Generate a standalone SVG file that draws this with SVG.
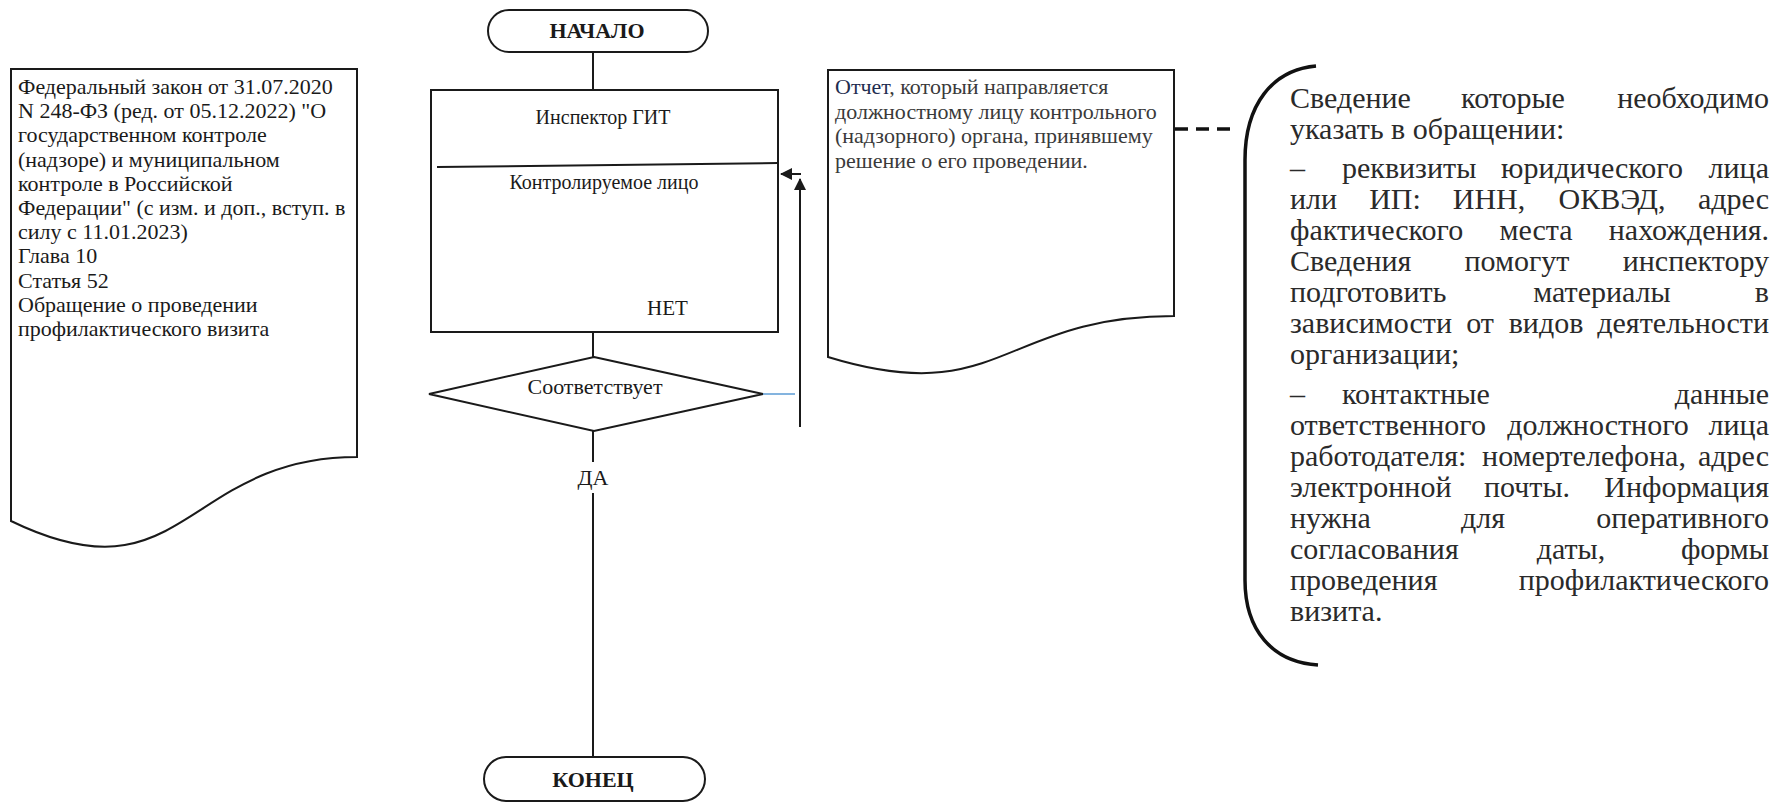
<svg xmlns="http://www.w3.org/2000/svg" width="1783" height="803" viewBox="0 0 1783 803">
<style>
.shape{fill:#fff;stroke:#1a1a1a;stroke-width:2}
.line{fill:none;stroke:#1a1a1a;stroke-width:2}
.serif{font-family:"Liberation Serif","Times New Roman",serif;fill:#1a1a1a}
.s20{font-size:20px}
.s22{font-size:22px}
.b{font-weight:bold}
.note{font-family:"Liberation Serif","Times New Roman",serif;font-size:30px;fill:#2a2a2a}
.m{text-anchor:middle}
.e{text-anchor:end}
</style>
<defs>
<marker id="arr" markerUnits="userSpaceOnUse" markerWidth="14" markerHeight="14" refX="11" refY="6" orient="auto">
<path d="M0,0 L12,6 L0,12 Z" fill="#1a1a1a"/>
</marker>
</defs>

<g id="law-doc">
<path class="shape" d="M11,69 H357 V457 C184,457 184,605 11,521 Z"/>
<text class="serif s22">
<tspan x="18" y="94">Федеральный закон от 31.07.2020</tspan>
<tspan x="18" y="118.2">N 248-ФЗ (ред. от 05.12.2022) "О</tspan>
<tspan x="18" y="142.4">государственном контроле</tspan>
<tspan x="18" y="166.6">(надзоре) и муниципальном</tspan>
<tspan x="18" y="190.8">контроле в Российской</tspan>
<tspan x="18" y="215">Федерации" (с изм. и доп., вступ. в</tspan>
<tspan x="18" y="239.2">силу с 11.01.2023)</tspan>
<tspan x="18" y="263.4">Глава 10</tspan>
<tspan x="18" y="287.6">Статья 52</tspan>
<tspan x="18" y="311.8">Обращение о проведении</tspan>
<tspan x="18" y="336">профилактического визита</tspan>
</text>
</g>

<g id="start">
<rect class="shape" x="488" y="10" width="220" height="42" rx="21" ry="21"/>
<text class="serif s22 b m" x="597" y="38">НАЧАЛО</text>
</g>

<g id="process">
<rect class="shape" x="431" y="90" width="347" height="242"/>
<line class="line" x1="437" y1="167" x2="778" y2="163"/>
<text class="serif s20 m" x="603" y="124">Инспектор ГИТ</text>
<text class="serif s20 m" x="604" y="189">Контролируемое лицо</text>
<text class="serif" x="647" y="315" style="font-size:21px">НЕТ</text>
</g>

<g id="decision">
<polygon class="shape" points="594,357 763,394 594,431 429,394"/>
<text class="serif s22 m" x="595" y="394">Соответствует</text>
</g>

<g id="end">
<rect class="shape" x="484" y="757" width="221" height="44" rx="22" ry="22"/>
<text class="serif s22 b m" x="593" y="787">КОНЕЦ</text>
</g>

<g id="report-doc">
<path class="shape" d="M828,70 H1174 V316 C1001,316 1001,410 828,357 Z"/>
<text class="serif s22" style="fill:#3a3a3a">
<tspan x="835" y="94"><tspan style="fill:#1f2d50">Отчет</tspan>, который направляется</tspan>
<tspan x="835" y="118.5">должностному лицу контрольного</tspan>
<tspan x="835" y="143">(надзорного) органа, принявшему</tspan>
<tspan x="835" y="167.5">решение о его проведении.</tspan>
</text>
</g>

<g id="info-note">
<path d="M1316,66 C1272,70 1245,105 1245,160 L1245,580 C1245,630 1272,662 1318,665" fill="none" stroke="#111" stroke-width="3.5"/>
<text class="note" y="108"><tspan x="1290">Сведение</tspan><tspan class="m" x="1513">которые</tspan><tspan class="e" x="1769">необходимо</tspan></text>
<text class="note" y="139"><tspan x="1290">указать в обращении:</tspan></text>
<text class="note" y="178"><tspan x="1290">–</tspan><tspan x="1342">реквизиты</tspan><tspan class="m" x="1592">юридического</tspan><tspan class="e" x="1769">лица</tspan></text>
<text class="note" y="209"><tspan x="1290">или</tspan><tspan class="m" x="1395">ИП:</tspan><tspan class="m" x="1489">ИНН,</tspan><tspan class="m" x="1612">ОКВЭД,</tspan><tspan class="e" x="1769">адрес</tspan></text>
<text class="note" y="240"><tspan x="1290">фактического</tspan><tspan class="m" x="1536">места</tspan><tspan class="e" x="1769">нахождения.</tspan></text>
<text class="note" y="271"><tspan x="1290">Сведения</tspan><tspan class="m" x="1517">помогут</tspan><tspan class="e" x="1769">инспектору</tspan></text>
<text class="note" y="302"><tspan x="1290">подготовить</tspan><tspan class="m" x="1602">материалы</tspan><tspan class="e" x="1769">в</tspan></text>
<text class="note" y="333"><tspan x="1290">зависимости</tspan><tspan class="m" x="1480">от</tspan><tspan class="m" x="1546">видов</tspan><tspan class="e" x="1769">деятельности</tspan></text>
<text class="note" y="364"><tspan x="1290">организации;</tspan></text>
<text class="note" y="404"><tspan x="1290">–</tspan><tspan x="1342">контактные</tspan><tspan class="e" x="1769">данные</tspan></text>
<text class="note" y="435"><tspan x="1290">ответственного</tspan><tspan class="m" x="1598">должностного</tspan><tspan class="e" x="1769">лица</tspan></text>
<text class="note" y="466"><tspan x="1290">работодателя:</tspan><tspan class="m" x="1584">номертелефона,</tspan><tspan class="e" x="1769">адрес</tspan></text>
<text class="note" y="497"><tspan x="1290">электронной</tspan><tspan class="m" x="1527">почты.</tspan><tspan class="e" x="1769">Информация</tspan></text>
<text class="note" y="528"><tspan x="1290">нужна</tspan><tspan class="m" x="1483">для</tspan><tspan class="e" x="1769">оперативного</tspan></text>
<text class="note" y="559"><tspan x="1290">согласования</tspan><tspan class="m" x="1571">даты,</tspan><tspan class="e" x="1769">формы</tspan></text>
<text class="note" y="590"><tspan x="1290">проведения</tspan><tspan class="e" x="1769">профилактического</tspan></text>
<text class="note" y="621"><tspan x="1290">визита.</tspan></text>
</g>

<g id="connectors">
<line class="line" x1="593" y1="52" x2="593" y2="90"/>
<line class="line" x1="593" y1="332" x2="593" y2="357"/>
<line class="line" x1="593" y1="431" x2="593" y2="462"/>
<text class="serif s22 m" x="593" y="485">ДА</text>
<line class="line" x1="593" y1="493" x2="593" y2="757"/>
<line x1="763" y1="394" x2="795" y2="394" stroke="#5b9bd5" stroke-width="1.5"/>
<line class="line" x1="800" y1="427" x2="800" y2="179" marker-end="url(#arr)"/>
<line class="line" x1="801" y1="174" x2="781" y2="174" marker-end="url(#arr)"/>
<line x1="1175" y1="129" x2="1236" y2="129" stroke="#111" stroke-width="3.5" stroke-dasharray="13,8"/>
</g>
</svg>
